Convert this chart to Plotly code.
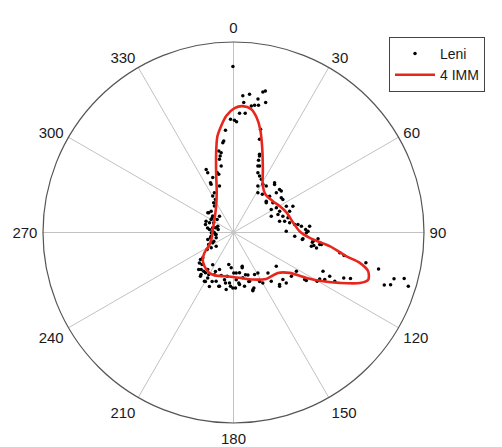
import plotly.graph_objects as go

# Red model curve (4 IMM): direction (deg, clockwise from north) and magnitude
imm_theta = [260.1, 270.0, 304.4, 326.7, 337.3, 343.9, 347.8, 350.5, 353.4, 356.4,
             0.5, 4.1, 8.2, 11.3, 14.5, 19.1, 24.9, 32.3, 40.1, 51.5,
             60.2, 69.2, 80.4, 88.9, 94.0, 98.1, 101.9, 103.5, 106.1, 109.3,
             111.8, 115.4, 118.6, 121.9, 125.7, 132.3, 144.8, 157.7, 172.5, 189.5,
             201.9, 210.8, 220.7, 228.7, 235.0, 243.4, 260.1]
imm_r = [0.114, 0.111, 0.121, 0.166, 0.228, 0.329, 0.431, 0.512, 0.563, 0.613,
         0.653, 0.665, 0.654, 0.617, 0.560, 0.462, 0.366, 0.288, 0.261, 0.264,
         0.279, 0.297, 0.317, 0.347, 0.401, 0.510, 0.606, 0.682, 0.736, 0.749,
         0.714, 0.617, 0.535, 0.451, 0.363, 0.315, 0.298, 0.267, 0.240, 0.233,
         0.244, 0.247, 0.234, 0.215, 0.186, 0.141, 0.114]

# Observed points (Leni)
leni_theta = [
    359.8, 3.9, 6.6, 11.8, 12.7, 10.4, 13.9, 4.5, 8.0, 9.4, 11.1, 2.9, 5.6, 358.5, 0.5,
    1.6, 355.5, 14.7, 353.9, 353.2, 15.6, 349.8, 18.8, 350.1,
    351.2, 349.1, 349.5, 336.7, 339.3, 345.8, 335.1, 343.2, 330.3, 331.4, 324.2, 313.7,
    292.5, 292.0, 308.2, 319.3, 279.6, 273.6, 263.7, 260.6, 291.9,
    18.4, 19.1, 21.4, 22.2, 24.8, 27.6, 27.7, 31.4, 35.2, 40.5, 46.9, 31.5, 37.1, 44.8,
    47.1, 54.0, 46.3, 52.9, 60.0, 65.2, 63.5, 69.2, 66.1, 71.7, 76.2, 80.2, 82.9, 84.7,
    74.9, 66.6,
    307.5, 300.2, 282.8, 277.1, 269.1, 253.0, 254.8, 243.5, 231.6, 235.5, 336.6, 344.7,
    335.2, 334.4, 326.4,
    20.1, 39.5, 49.1, 47.8, 58.6, 56.2, 67.9, 77.5, 82.5, 89.0, 93.5, 95.2, 96.3, 97.9,
    85.3, 87.6, 95.8, 97.0, 99.2, 100.5, 97.8, 94.3, 100.8, 101.8, 102.9, 104.1, 109.2,
    108.4, 106.1, 105.1, 107.1, 113.4, 123.4, 120.3, 118.3, 117.3, 114.5, 115.7, 112.4,
    111.5,
    230.5, 228.3, 221.1, 214.8, 217.6, 209.6, 210.8, 212.9, 204.3, 199.6, 196.0, 194.6,
    190.8, 188.4, 184.5, 180.7, 176.7, 176.2, 173.4, 168.4, 168.4, 166.2, 161.8, 161.3,
    153.4, 148.9, 151.9, 149.8, 139.6, 142.3, 138.5, 133.6, 133.7, 127.1, 121.7, 123.5,
    128.3, 200.7, 214.8, 204.1, 187.3, 171.5, 183.7, 161.2,
    161.6, 139.4, 88.6, 90.2, 100.0,
    308.6, 304.6, 296.2, 284.6, 269.2, 263.4, 257.0, 246.2, 244.1, 237.1, 308.6, 285.9,
    281.1,
    230.7, 224.4, 223.2, 217.5, 217.1, 210.5, 209.9, 203.6, 204.9, 195.3, 189.0, 183.2,
    177.9, 174.0, 165.5, 164.1, 162.6, 159.8, 179.6, 188.2,
]
leni_r = [
    0.872, 0.719, 0.731, 0.754, 0.761, 0.712, 0.703, 0.685, 0.671, 0.677, 0.681, 0.627, 0.629, 0.595, 0.589,
    0.581, 0.538, 0.560, 0.483, 0.475, 0.508, 0.435, 0.424, 0.408,
    0.424, 0.391, 0.355, 0.342, 0.308, 0.315, 0.279, 0.255, 0.220, 0.198, 0.171, 0.162,
    0.156, 0.136, 0.139, 0.113, 0.138, 0.109, 0.095, 0.119, 0.089,
    0.433, 0.402, 0.375, 0.339, 0.326, 0.315, 0.275, 0.296, 0.298, 0.332, 0.331, 0.245, 0.251, 0.269,
    0.307, 0.310, 0.238, 0.259, 0.260, 0.267, 0.310, 0.315, 0.341, 0.273, 0.249, 0.299, 0.341, 0.358,
    0.296, 0.216,
    0.170, 0.136, 0.112, 0.127, 0.100, 0.095, 0.140, 0.122, 0.116, 0.142, 0.361, 0.326,
    0.288, 0.232, 0.188,
    0.372, 0.339, 0.332, 0.232, 0.232, 0.312, 0.252, 0.275, 0.324, 0.391, 0.322, 0.366, 0.420, 0.457,
    0.401, 0.379, 0.363, 0.417, 0.427, 0.443, 0.466, 0.445, 0.568, 0.593, 0.713, 0.785, 0.838,
    0.869, 0.877, 0.928, 0.960, 0.512, 0.458, 0.508, 0.514, 0.539, 0.555, 0.590, 0.626,
    0.660,
    0.209, 0.240, 0.258, 0.258, 0.279, 0.274, 0.298, 0.201, 0.243, 0.272, 0.235, 0.292,
    0.252, 0.170, 0.266, 0.291, 0.248, 0.213, 0.275, 0.243, 0.288, 0.191, 0.270, 0.317,
    0.247, 0.248, 0.291, 0.306, 0.279, 0.324, 0.365, 0.358, 0.383, 0.381, 0.388, 0.448,
    0.286, 0.208, 0.237, 0.310, 0.302, 0.214, 0.186, 0.235,
    0.322, 0.372, 0.277, 0.383, 0.415,
    0.166, 0.136, 0.116, 0.098, 0.116, 0.092, 0.124, 0.113, 0.145, 0.165, 0.110, 0.153,
    0.082,
    0.224, 0.236, 0.267, 0.257, 0.288, 0.256, 0.296, 0.280, 0.225, 0.293, 0.268, 0.283,
    0.291, 0.266, 0.183, 0.230, 0.269, 0.310, 0.212, 0.232,
]

tick_vals = [0, 30, 60, 90, 120, 150, 180, 210, 240, 270, 300, 330]
tick_text = ["0", "30", "60", "90", "120", "150", "180", "210", "240", "270", "300", "330"]

# page body has an 8px default margin; size the figure to fit the 502x447 window
W, H = 494, 439
OFF = 8

fig = go.Figure()
fig.add_trace(go.Scatterpolar(
    theta=leni_theta, r=leni_r, mode="markers", name="Leni",
    marker=dict(color="black", size=3.5),
))
fig.add_trace(go.Scatterpolar(
    theta=imm_theta, r=imm_r, mode="lines", name="4 IMM",
    line=dict(color="#e8261c", width=2.6, shape="spline", smoothing=0.8),
))

fig.update_layout(
    width=W, height=H,
    margin=dict(l=0, r=0, t=0, b=0),
    paper_bgcolor="white",
    font=dict(family="Liberation Sans, Arial, sans-serif", size=15, color="#1a1a1a"),
    polar=dict(
        domain=dict(x=[(43 - OFF) / W, (424 - OFF) / W],
                    y=[1 - (423 - OFF) / H, 1 - (42 - OFF) / H]),
        bgcolor="white",
        angularaxis=dict(
            rotation=90, direction="clockwise",
            tickmode="array", tickvals=tick_vals, ticktext=tick_text,
            showgrid=True, gridcolor="#c2c2c2", gridwidth=1,
            showline=True, linecolor="#555555", linewidth=1.2,
            ticks="outside", ticklen=2, tickcolor="rgba(0,0,0,0)",
            tickfont=dict(size=15, color="#1a1a1a"),
        ),
        radialaxis=dict(
            range=[0, 1], showgrid=False, showticklabels=False,
            showline=False, ticks="",
        ),
    ),
    legend=dict(
        x=(389 - OFF) / W, y=1 - (37 - OFF) / H, xanchor="left", yanchor="top",
        bgcolor="white", bordercolor="#444444", borderwidth=1,
        font=dict(size=14, color="#1a1a1a"),
        itemwidth=40, tracegroupgap=0,
    ),
    showlegend=True,
)

fig.write_html("out.html")
